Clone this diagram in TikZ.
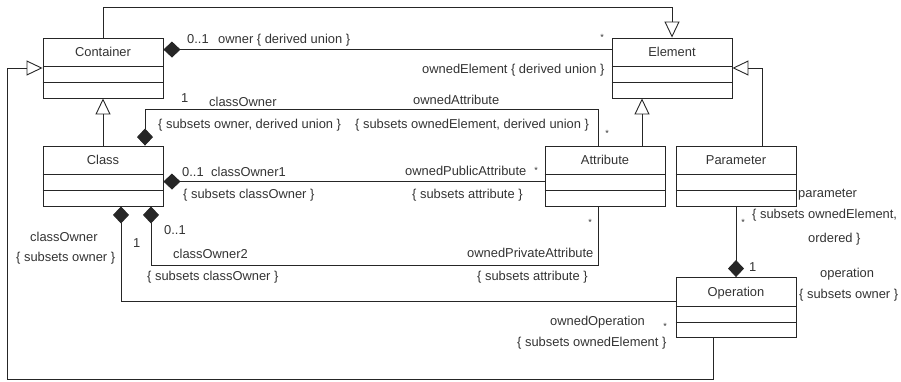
\documentclass[tikz,border=0pt]{standalone}
\usepackage{fontspec}
\setmainfont{Liberation Sans}
\usetikzlibrary{arrows.meta}
\newcommand\fsz{\fontsize{12.9pt}{15pt}\selectfont}
\newcommand\fst{\fontsize{9pt}{10pt}\selectfont}
\tikzset{
 clsbox/.style={draw=black!85, line width=0.9pt, minimum width=120pt, minimum height=60pt, inner sep=0pt},
 clsname/.style={inner sep=0pt, text height=9pt, text depth=0pt, font=\fsz, text=black!80},
 lbl/.style={anchor=west, inner sep=0pt, text height=9pt, text depth=0pt, font=\fsz, text=black!80},
 starlbl/.style={inner sep=0pt, font=\fst, text=black!80},
 conn/.style={draw=black!85, line width=0.9pt},
 gen/.style={conn, -{Triangle[open, length=16pt, width=15pt]}},
 compS/.style={conn, {Diamond[length=17pt, width=16pt]}-},
 compE/.style={conn, -{Diamond[length=17pt, width=16pt]}},
 sep/.style={draw=black!85, line width=0.9pt},
}
\newcommand\umlclass[3]{%
 \node[clsbox] (#1) at (#2) {};
 \node[clsname] (#1-name) at ([yshift=-14.5pt]#1.north) {#3};
 \draw[sep] ([yshift=-29pt]#1.north west) -- ([yshift=-29pt]#1.north east);
 \draw[sep] ([yshift=-45pt]#1.north west) -- ([yshift=-45pt]#1.north east);
}
\begin{document}
\begin{tikzpicture}[x=1pt,y=-1pt]
\useasboundingbox (0,0) rectangle (901,381);
% classes
\umlclass{container}{103,68}{Container}
\umlclass{element}{672,68}{Element}
\umlclass{class}{103,176}{Class}
\umlclass{attribute}{605,176}{Attribute}
\umlclass{parameter}{736,176}{Parameter}
\umlclass{operation}{736,307.5}{Operation}
% generalizations
\draw[gen] (container.north) -- ++(0,-30) -| (element.north);
\draw[gen] (class.north) -- (container.south);
\draw[gen] ([xshift=37pt]attribute.north) -- ([xshift=-30pt]element.south);
\draw[gen] ([xshift=26pt]parameter.north) |- (element.east);
\draw[gen] ([xshift=-23pt]operation.south) -- ++(0,41) -| ([xshift=-35pt]container.west) -- (container.west);
% compositions
\draw[compS] ([yshift=-12pt]container.north east) -- ([yshift=-12pt]element.north west);
\draw[compS] ([xshift=42pt]class.north) -- ++(0,-36) -| ([xshift=-7pt]attribute.north);
\draw[compS] ([yshift=-36pt]class.north east) -- ([yshift=-36pt]attribute.north west);
\draw[compS] ([xshift=48pt]class.south) -- ++(0,59) -| ([xshift=-7pt]attribute.south);
\draw[compS] ([xshift=18pt]class.south) |- ([yshift=-24pt]operation.north west);
\draw[compE] (parameter.south) -- (operation.north);
% labels
\node[lbl] (l1) at (187,39) {0..1};
\node[lbl] (l2) at (218,39) {owner \{ derived union \}};
\node[starlbl] (l3) at (602,37) {*};
\node[lbl] (l4) at (422,69) {ownedElement \{ derived union \}};
\node[lbl] (l5) at (181,98) {1};
\node[lbl] (l6) at (209,102) {classOwner};
\node[lbl] (l7) at (158,124) {\{ subsets owner, derived union \}};
\node[lbl] (l8) at (413,100) {ownedAttribute};
\node[lbl] (l9) at (355,124) {\{ subsets ownedElement, derived union \}};
\node[starlbl] (l10) at (607,133) {*};
\node[lbl] (l11) at (182,172) {0..1};
\node[lbl] (l12) at (211,172) {classOwner1};
\node[lbl] (l13) at (183,194) {\{ subsets classOwner \}};
\node[lbl] (l14) at (405,171) {ownedPublicAttribute};
\node[starlbl] (l15) at (536,170) {*};
\node[lbl] (l16) at (412,194) {\{ subsets attribute \}};
\node[starlbl] (l17) at (590,222) {*};
\node[lbl] (l18) at (467,253) {ownedPrivateAttribute};
\node[lbl] (l19) at (477,276) {\{ subsets attribute \}};
\node[lbl] (l20) at (164,230) {0..1};
\node[lbl] (l21) at (30,237) {classOwner};
\node[lbl] (l22) at (133,243) {1};
\node[lbl] (l23) at (173,254) {classOwner2};
\node[lbl] (l24) at (16,257) {\{ subsets owner \}};
\node[lbl] (l25) at (147,276) {\{ subsets classOwner \}};
\node[lbl] (l26) at (550,321) {ownedOperation};
\node[starlbl] (l27) at (665,326) {*};
\node[lbl] (l28) at (517,342) {\{ subsets ownedElement \}};
\node[lbl] (l29) at (749,267) {1};
\node[lbl] (l30) at (820,273) {operation};
\node[lbl] (l31) at (799,294) {\{ subsets owner \}};
\node[lbl] (l32) at (798,193) {parameter};
\node[starlbl] (l33) at (743,222) {*};
\node[lbl] (l34) at (752,214) {\{ subsets ownedElement,};
\node[lbl] (l35) at (808,238) {ordered \}};
\end{tikzpicture}
\end{document}
